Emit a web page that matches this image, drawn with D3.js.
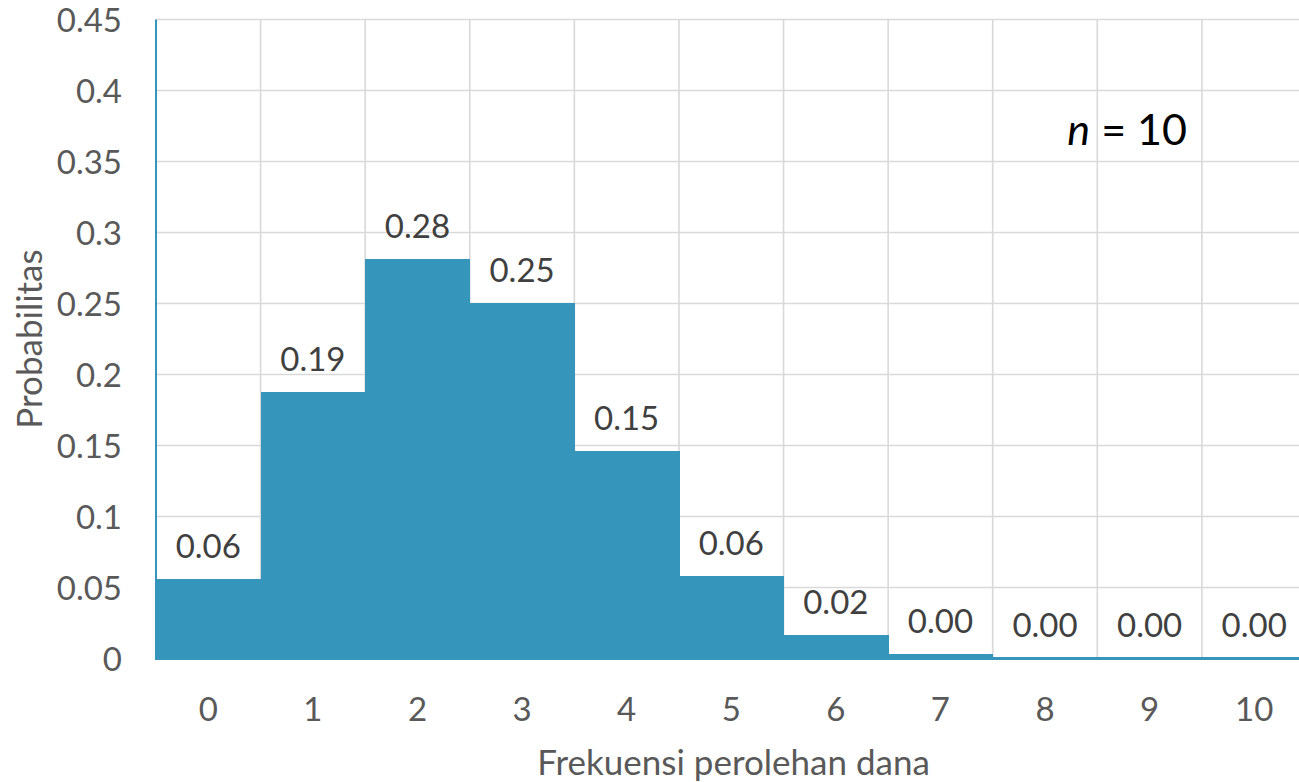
<!DOCTYPE html>
<html>
<head>
<meta charset="utf-8">
<script src="https://cdn.jsdelivr.net/npm/d3@7/dist/d3.min.js"></script>
<style>
  html, body { margin: 0; padding: 0; background: #fff; }
  svg { display: block; }
  text { font-family: Lato, "Open Sans", sans-serif; }
</style>
</head>
<body>
<svg id="chart" width="1299" height="782"></svg>
<script>
// Binomial probabilities, n = 10
const categories = ["0", "1", "2", "3", "4", "5", "6", "7", "8", "9", "10"];
const probabilities = [0.0563, 0.1877, 0.2816, 0.2503, 0.1460, 0.0584, 0.0162, 0.0031, 0.0004, 0.00003, 0.000001];
const yTicks = [0, 0.05, 0.1, 0.15, 0.2, 0.25, 0.3, 0.35, 0.4, 0.45];
const yTickLabels = ["0", "0.05", "0.1", "0.15", "0.2", "0.25", "0.3", "0.35", "0.4", "0.45"];
const xTitle = "Frekuensi perolehan dana";
const yTitle = "Probabilitas";

(function () {
  const svg = d3.select("#chart");
  const plotLeft = 156, plotRight = 1306.5, plotTop = 19.5, plotBottom = 658.5;
  const barColor = "#3595bb";
  const gridColor = "#d9d9d9";

  const x = d3.scaleBand().domain(categories).range([plotLeft, plotRight]).paddingInner(0).paddingOuter(0);
  const y = d3.scaleLinear().domain([0, 0.45]).range([plotBottom, plotTop]);

  // horizontal gridlines
  svg.append("g")
    .selectAll("line")
    .data(yTicks.filter(t => t > 0))
    .join("line")
    .attr("x1", plotLeft).attr("x2", plotRight)
    .attr("y1", d => y(d)).attr("y2", d => y(d))
    .attr("stroke", gridColor).attr("stroke-width", 1.6);

  // vertical gridlines at category boundaries
  const boundaries = categories.slice(1).map(c => x(c))
    .concat([x(categories[categories.length - 1]) + x.bandwidth()]);
  svg.append("g")
    .selectAll("line")
    .data(boundaries)
    .join("line")
    .attr("x1", d => d).attr("x2", d => d)
    .attr("y1", plotTop).attr("y2", plotBottom)
    .attr("stroke", gridColor).attr("stroke-width", 1.6);

  // bars (adjacent columns, no gap)
  svg.append("g")
    .attr("shape-rendering", "crispEdges")
    .selectAll("rect")
    .data(probabilities)
    .join("rect")
    .attr("x", (d, i) => x(categories[i]))
    .attr("width", x.bandwidth() + 0.6)
    .attr("y", d => y(d))
    .attr("height", d => y(0) - y(d))
    .attr("fill", barColor);

  // value labels
  svg.append("g")
    .selectAll("text")
    .data(probabilities)
    .join("text")
    .attr("x", (d, i) => x(categories[i]) + x.bandwidth() / 2)
    .attr("y", d => y(d) - 21)
    .attr("text-anchor", "middle")
    .attr("font-size", 33)
    .attr("fill", "#404040")
    .text(d => d.toFixed(2));

  // y axis labels
  const yAxis = d3.axisLeft(y).tickValues(yTicks).tickSize(0).tickPadding(0)
    .tickFormat((d, i) => yTickLabels[i]);
  const gy = svg.append("g").attr("transform", "translate(122,0)").call(yAxis);
  gy.select(".domain").remove();
  gy.selectAll("text")
    .attr("font-family", "Lato, 'Open Sans', sans-serif")
    .attr("font-size", 33)
    .attr("fill", "#595959")
    .attr("dy", "0.36em");

  // x axis labels
  const xAxis = d3.axisBottom(x).tickSize(0).tickPadding(0);
  const gx = svg.append("g").attr("transform", "translate(0,698)").call(xAxis);
  gx.select(".domain").remove();
  gx.selectAll("text")
    .attr("font-family", "Lato, 'Open Sans', sans-serif")
    .attr("font-size", 33)
    .attr("fill", "#595959")
    .attr("dy", "0.71em");

  // axis lines
  svg.append("line")
    .attr("x1", plotLeft).attr("x2", plotLeft).attr("y1", plotTop).attr("y2", plotBottom + 1.5)
    .attr("stroke", barColor).attr("stroke-width", 2);
  svg.append("line")
    .attr("x1", plotLeft - 1).attr("x2", plotRight).attr("y1", plotBottom).attr("y2", plotBottom)
    .attr("stroke", barColor).attr("stroke-width", 3);

  // axis titles
  svg.append("text")
    .attr("x", 733.5).attr("y", 775)
    .attr("text-anchor", "middle")
    .attr("font-size", 35)
    .attr("fill", "#595959")
    .text(xTitle);

  svg.append("text")
    .attr("transform", `translate(42,${(plotTop + plotBottom) / 2}) rotate(-90)`)
    .attr("text-anchor", "middle")
    .attr("font-size", 35)
    .attr("fill", "#595959")
    .text(yTitle);

  // annotation
  const note = svg.append("text")
    .attr("x", 1187).attr("y", 145)
    .attr("text-anchor", "end")
    .attr("font-size", 43)
    .attr("fill", "#000");
  note.append("tspan").attr("font-style", "italic").text("n");
  note.append("tspan").text(" = 10");
})();
</script>
</body>
</html>
